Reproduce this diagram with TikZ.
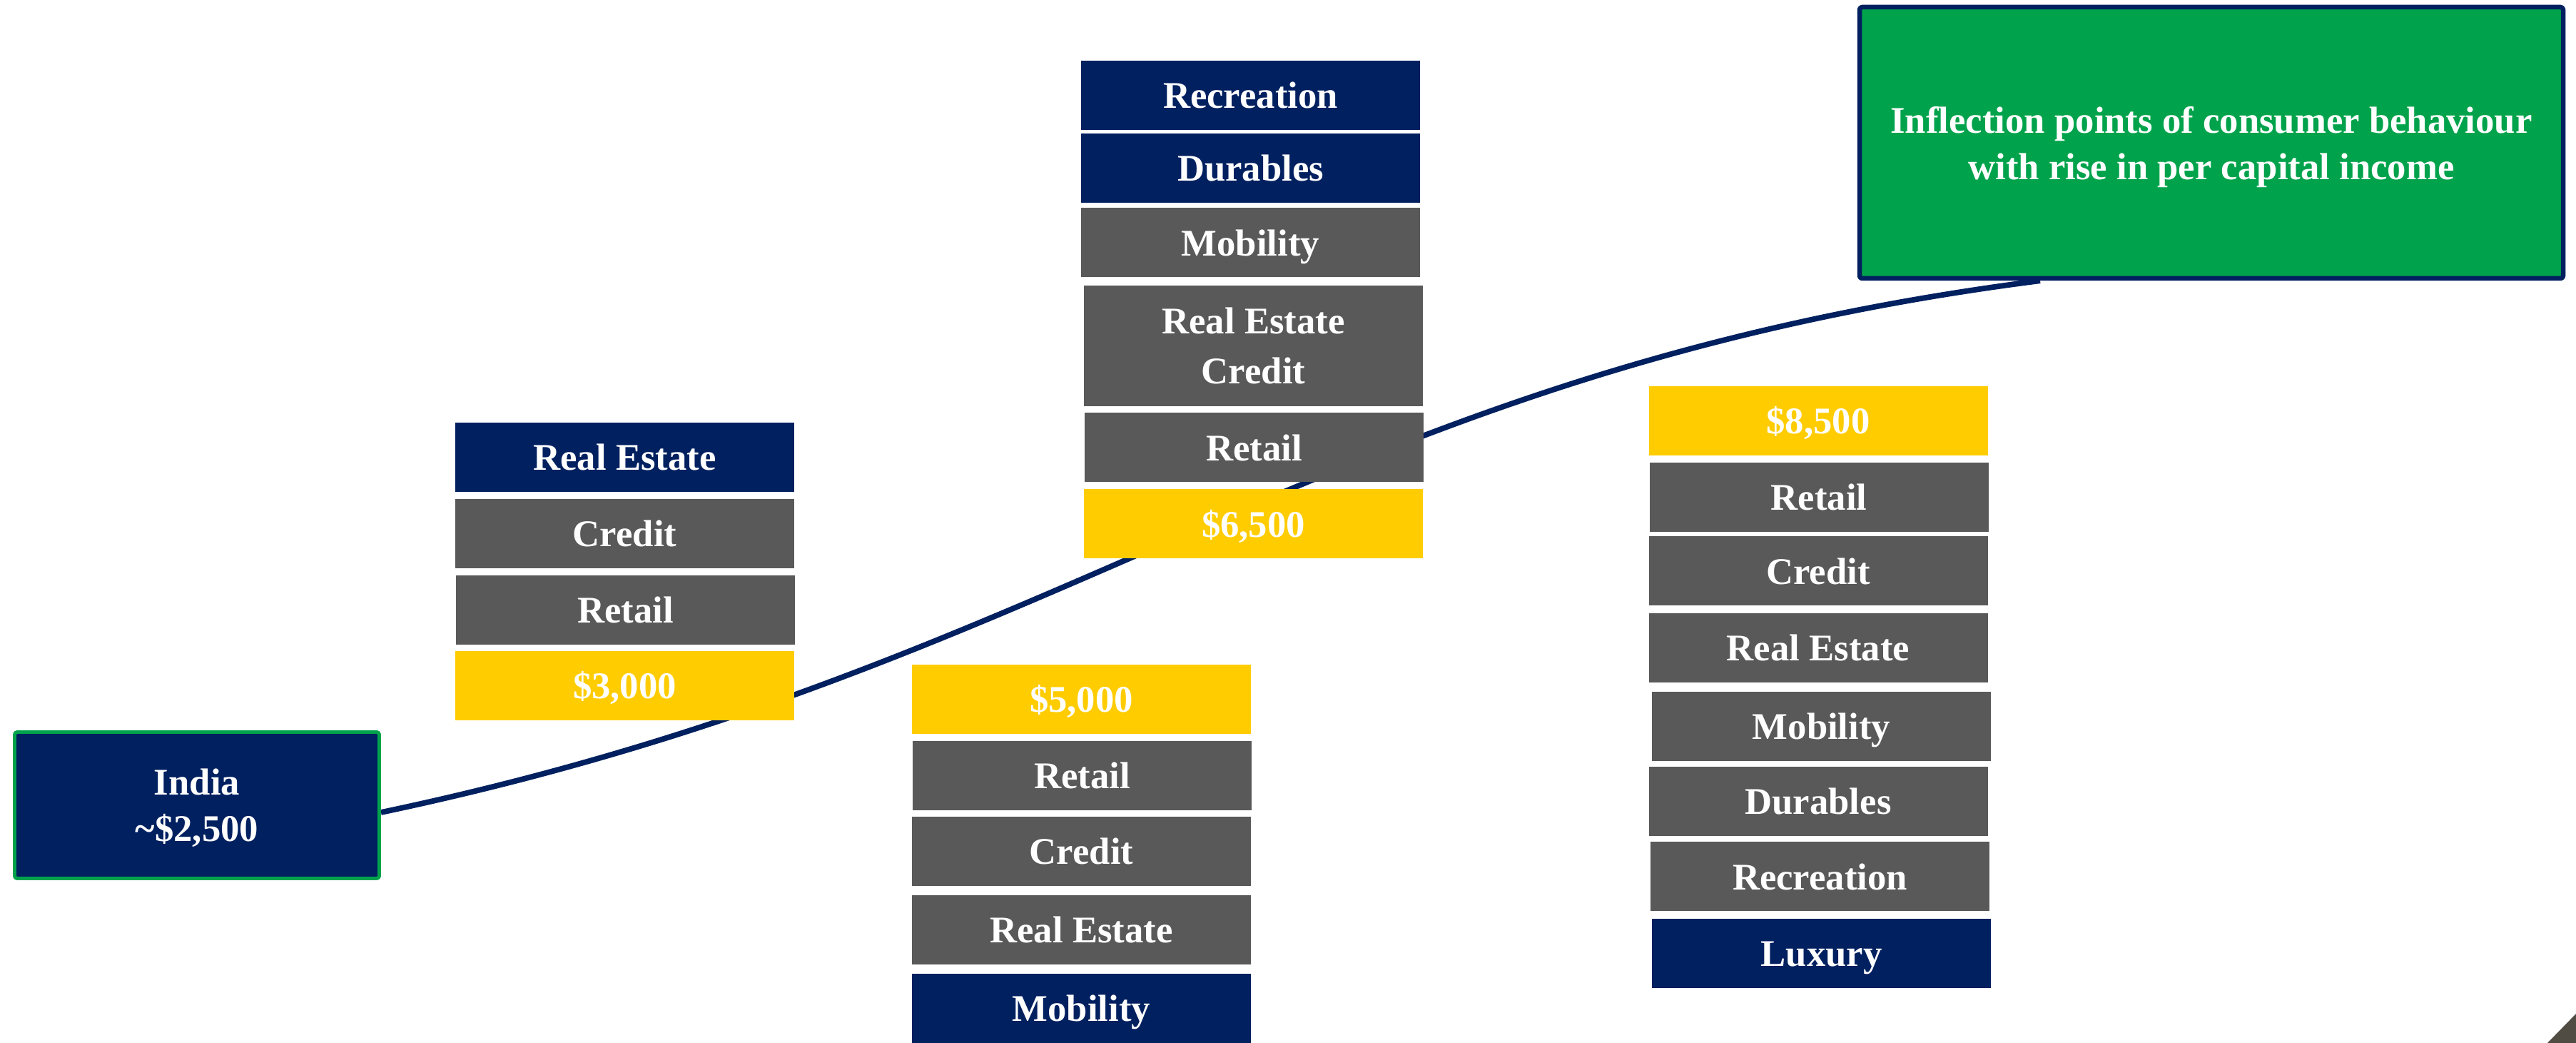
\documentclass[tikz,border=0pt]{standalone}
\usepackage{fontspec}
\setmainfont{Liberation Serif}
\usetikzlibrary{backgrounds}
\definecolor{navy}{RGB}{0,32,96}
\definecolor{slate}{RGB}{89,89,89}
\definecolor{gold}{RGB}{255,204,0}
\definecolor{leaf}{RGB}{0,163,75}
\definecolor{curl}{RGB}{80,76,68}
\begin{document}
\begin{tikzpicture}[line join=round, line cap=round,
	font=\bfseries\fontsize{15}{18.5}\selectfont,
	bar/.style={text=white, minimum width=4.75cm, minimum height=0.97cm, inner sep=0pt, align=center, text height=1.24em, text depth=0.2em},
	navybar/.style={bar, fill=navy},
	greybar/.style={bar, fill=slate},
	goldbar/.style={bar, fill=gold}]
	\useasboundingbox (0,0) rectangle (36.1,14.61);
	%\draw[gray!30] (0,0) grid (36,14);
	% start and title
	\node[fill=navy, draw=leaf, line width=1.4pt, rounded corners=1pt, text=white, align=center, text depth=-0.22em, minimum width=5.11cm, minimum height=2.05cm] (india) at (2.76,3.33) {India\\\textasciitilde\$2,500};
	\node[fill=leaf, draw=navy, line width=1.85pt, rounded corners=1pt, text=white, align=center, text depth=-0.22em, minimum width=9.86cm, minimum height=3.80cm] (goal) at (30.99,12.61) {Inflection points of consumer behaviour\\with rise in per capital income};
	% $3,000
	\node[navybar] (re1) at (8.755,8.205) {Real Estate};
	\node[greybar] (cr1) at (8.755,7.135) {Credit};
	\node[greybar] (rt1) at (8.765,6.065) {Retail};
	\node[goldbar] (p3000) at (8.755,5.005) {\$3,000};
	% $5,000
	\node[goldbar] (p5000) at (15.155,4.815) {\$5,000};
	\node[greybar] (rt2) at (15.165,3.745) {Retail};
	\node[greybar] (cr2) at (15.155,2.685) {Credit};
	\node[greybar] (re2) at (15.155,1.585) {Real Estate};
	\node[navybar] (mb2) at (15.155,0.485) {Mobility};
	% $6,500
	\node[navybar] (rc3) at (17.525,13.275) {Recreation};
	\node[navybar] (du3) at (17.525,12.255) {Durables};
	\node[greybar] (mb3) at (17.525,11.21) {Mobility};
	\node[greybar, minimum height=1.69cm, text height={}, text depth=-0.06em] (rec3) at (17.565,9.765) {Real Estate\\[1.5pt]Credit};
	\node[greybar] (rt3) at (17.575,8.34) {Retail};
	\node[goldbar] (p6500) at (17.565,7.27) {\$6,500};
	% $8,500
	\node[goldbar] (p8500) at (25.48,8.715) {\$8,500};
	\node[greybar] (rt4) at (25.49,7.645) {Retail};
	\node[greybar] (cr4) at (25.48,6.61) {Credit};
	\node[greybar] (re4) at (25.48,5.535) {Real Estate};
	\node[greybar] (mb4) at (25.525,4.435) {Mobility};
	\node[greybar] (du4) at (25.48,3.385) {Durables};
	\node[greybar] (rc4) at (25.505,2.33) {Recreation};
	\node[navybar] (lx4) at (25.525,1.255) {Luxury};
	% income curve
	\begin{scope}[on background layer]
	\draw[navy, line width=2.2pt] ([yshift=-1mm]india.east) .. controls (15.12,5.29) and (18.6,9.4) .. ([xshift=-2.4cm]goal.south);
	\end{scope}
	\fill[curl] (35.7,0)--(36.1,0.41)--(36.1,0)--cycle;
\end{tikzpicture}
\end{document}
